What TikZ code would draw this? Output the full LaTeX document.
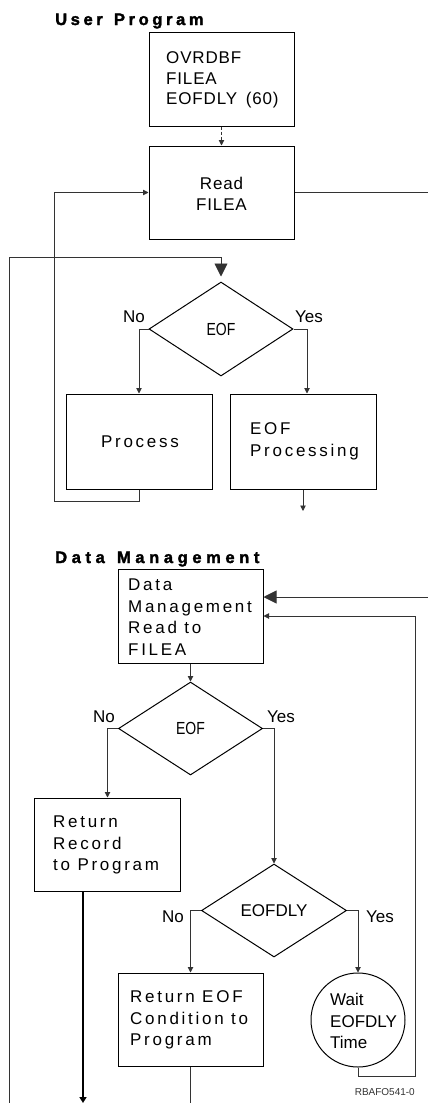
\documentclass[tikz,border=0pt]{standalone}
\usepackage{fontspec}
\setmainfont{Liberation Sans}
\newfontfamily\ftopf[LetterSpace=5]{Liberation Sans}
\newfontfamily\fwidef[LetterSpace=16]{Liberation Sans}
\newfontfamily\fcondf[FakeStretch=0.8]{Liberation Sans}
\newfontfamily\fheadf[LetterSpace=22,FakeBold=2]{Liberation Sans Bold}
\newfontfamily\fheadwf[LetterSpace=28,FakeBold=2]{Liberation Sans Bold}
\usetikzlibrary{shapes.geometric,arrows.meta}
\begin{document}
\begin{tikzpicture}[x=1pt,y=-1pt,
  box/.style={draw=black, line width=1pt, inner sep=0pt},
  dia/.style={draw=black, line width=1pt, diamond, inner sep=0pt},
  txt/.style={inner sep=0pt, align=left},
  toptxt/.style={txt, font=\ftopf\fontsize{17}{20.5}\selectfont},
  widetxt/.style={txt, font=\fwidef\fontsize{17}{21.5}\selectfont},
  lbl/.style={inner sep=0pt, font=\fontsize{17}{20}\selectfont},
  head/.style={inner sep=0pt, font=\fheadf\fontsize{16.5}{20}\selectfont},
  headw/.style={inner sep=0pt, font=\fheadwf\fontsize{16.5}{20}\selectfont},
  conn/.style={draw=black!80, line width=0.9pt},
  arr/.style={conn, -{Triangle[length=5.5pt,width=5.5pt]}},
  bigarr/.style={conn, -{Triangle[length=13pt,width=13pt]}},
  thickarr/.style={draw=black, line width=2pt, -{Triangle[length=6pt,width=7pt]}}
]
\useasboundingbox (0,0) rectangle (428,1103);

% headers
\node[head, anchor=base west] (h1) at (55,25) {User\hspace{3pt} Program};
\node[headw, anchor=base west] (h2) at (55,563) {Data\hspace{3pt} Management};

% user program
\node[box, minimum width=145pt, minimum height=94pt] (ovr) at (221.5,79) {};
\node[toptxt, anchor=west] (ovrt) at (166,80) {OVRDBF\\FILEA\\EOFDLY\hspace{3pt} (60)};

\node[box, minimum width=145pt, minimum height=93pt] (read) at (221.5,192.5) {};
\node[toptxt, align=center] (readt) at (221.5,194) {Read\\FILEA};

\node[dia, minimum width=144pt, minimum height=94pt,
      font=\fcondf\fontsize{17.5}{20}\selectfont] (d1) at (221,329) {EOF};
\node[lbl, anchor=base west] (d1no) at (123,322) {No};
\node[lbl, anchor=base west] (d1yes) at (295,322) {Yes};

\node[box, minimum width=146pt, minimum height=95pt] (process) at (139,441.5) {};
\node[widetxt] (processt) at (140,442) {Process};

\node[box, minimum width=146pt, minimum height=95pt] (eofp) at (303,441.5) {};
\node[widetxt, anchor=west] (eofpt) at (250,441.5) {EOF\\Processing};

% data management
\node[box, minimum width=145pt, minimum height=94pt] (dm) at (190.5,616) {};
\node[widetxt, anchor=west] (dmt) at (128,617) {Data\\Management\\Read to\\FILEA};

\node[dia, minimum width=144pt, minimum height=93pt,
      font=\fcondf\fontsize{17.5}{20}\selectfont] (d2) at (190.5,728.5) {EOF};
\node[lbl, anchor=base west] (d2no) at (93,722) {No};
\node[lbl, anchor=base west] (d2yes) at (267,722) {Yes};

\node[box, minimum width=146pt, minimum height=93pt] (rr) at (107.5,844.5) {};
\node[widetxt, anchor=west] (rrt) at (53,845) {Return\\Record\\to Program};

\node[dia, minimum width=145pt, minimum height=93pt,
      font=\fontsize{17}{20}\selectfont] (d3) at (274,910.5) {EOFDLY};
\node[lbl, anchor=base west] (d3no) at (162,922) {No};
\node[lbl, anchor=base west] (d3yes) at (366,922) {Yes};

\node[box, minimum width=145pt, minimum height=93pt] (re) at (190.5,1019.5) {};
\node[widetxt, anchor=west] (ret) at (130,1020) {Return EOF\\Condition to\\Program};

\node[draw=black, line width=1pt, circle, minimum size=94pt, inner sep=0pt] (circ) at (358,1020) {};
\node[txt, anchor=west, font=\fontsize{17}{21.5}\selectfont] (circt) at (330,1021) {Wait\\EOFDLY\\Time};

\node[inner sep=0pt, anchor=base east, font=\fontsize{10}{12}\selectfont, text=black!80] (code) at (415,1095) {RBAFO541-0};

% coordinates
\coordinate (rt) at (428,192.5);
\coordinate (olb) at (9,1103);
\coordinate (olt) at (9,257);
\coordinate (lp) at (54,501);
\coordinate (epe) at (304,511);
\coordinate (rt2) at (428,597);
\coordinate (rrb) at (83,1103);
\coordinate (lr) at (415,1076);
\coordinate (reb) at (192,1103);

% connectors
\draw[arr, dash pattern=on 3pt off 2pt] (ovr.south) -- (read.north);
\draw[conn] (read.east) -- (rt);
\draw[bigarr, shorten >=5pt] (olb) -- (olt) -| (d1.north);
\draw[arr] (d1.west) -| (process.north);
\draw[arr] (d1.east) -| ([xshift=4pt]eofp.north);
\draw[arr] (process.south) |- (lp) |- (read.west);
\draw[arr] (eofp.south) -- (eofp.south |- epe);

\draw[bigarr] (rt2) -- (dm.east |- rt2);
\draw[arr] (dm.south) -- (d2.north);
\draw[arr] (d2.west) -| (rr.north);
\draw[arr] (d2.east) -| (d3.north);
\draw[thickarr] (rr.south -| rrb) -- (rrb);
\draw[arr] (d3.west) -| (re.north);
\draw[arr] (d3.east) -| (circ.north);
\draw[arr] (circ.south) |- (lr) |- (dm.east);
\draw[conn] (re.south) -- (re.south |- reb);
\end{tikzpicture}
\end{document}
